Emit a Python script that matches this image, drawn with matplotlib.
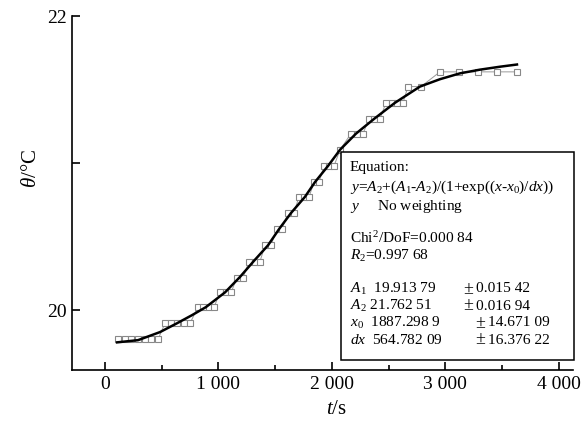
import matplotlib
matplotlib.use("Agg")
import matplotlib.pyplot as plt
from matplotlib.patches import Rectangle

plt.rcParams['font.family'] = ['Liberation Serif', 'DejaVu Serif']
plt.rcParams['mathtext.fontset'] = 'custom'
plt.rcParams['mathtext.rm'] = 'Liberation Serif'
plt.rcParams['mathtext.it'] = 'Liberation Serif:italic'

# measured data (time in s, temperature in degC)
t_data = [115, 174, 232, 291, 350, 408, 467,
          529, 582, 639, 696, 749,
          820, 864, 917, 961,
          1014, 1067, 1111,
          1164, 1217,
          1270, 1322, 1366,
          1411, 1463,
          1516, 1560,
          1613, 1666,
          1710, 1755, 1799,
          1843, 1887,
          1931, 1975, 2019,
          2072,
          2169, 2222, 2275,
          2327, 2371, 2424,
          2477, 2530, 2574, 2627,
          2671, 2786,
          2953, 3121, 3288, 3456, 3632]
theta_data = [19.80] * 7 + [19.91] * 5 + [20.02] * 4 + [20.12] * 3 + [20.22] * 2 + \
             [20.33] * 3 + [20.44] * 2 + [20.55] * 2 + [20.66] * 2 + [20.77] * 3 + \
             [20.87] * 2 + [20.98] * 3 + [21.09] * 1 + [21.20] * 3 + [21.30] * 3 + \
             [21.41] * 4 + [21.52] * 2 + [21.62] * 5

# fitted curve
fit_t = [106, 291, 485, 635, 767, 890, 1058, 1190, 1314, 1437, 1534, 1640, 1763,
         1851, 1966, 2072, 2213, 2372, 2557, 2777, 2953, 3130, 3306, 3482, 3632]
fit_theta = [19.78, 19.795, 19.85, 19.91, 19.965, 20.02, 20.12, 20.225, 20.335, 20.44,
             20.55, 20.66, 20.77, 20.87, 20.98, 21.09, 21.20, 21.30, 21.41, 21.52,
             21.57, 21.61, 21.635, 21.655, 21.67]

x_ticks = [0, 1000, 2000, 3000, 4000]
x_tick_labels = ['0', '1 000', '2 000', '3 000', '4 000']
x_minor = [500, 1500, 2500, 3500]
y_ticks = [20, 21, 22]
y_tick_labels = ['20', '', '22']

box_lines = [
    "Equation:",
    r"$y$=$A_2$+($A_1$-$A_2$)/(1+exp(($x$-$x_0$)/$dx$))",
    r"$y$     No weighting",
    "",
    r"Chi$^2$/DoF=0.000 84",
    r"$R_2$=0.997 68",
    "",
    r"$A_1$  19.913 79",
    r"$A_2$ 21.762 51",
    r"$x_0$  1887.298 9",
    r"$dx$  564.782 09",
]
box_line_y = [168, 187, 206, None, 238, 256, None, 289, 306, 323, 340]
err_values = ["0.015 42", "0.016 94", "14.671 09", "16.376 22"]

W, H = 583, 424
fig = plt.figure(figsize=(W / 100, H / 100), dpi=100)
ax = fig.add_axes([72 / W, 1 - 370 / H, (573 - 72) / W, (370 - 16) / H])

ax.plot(t_data, theta_data, color='#999999', lw=0.7, marker='s', ms=4.2,
        mfc='white', mec='#888888', mew=0.8, zorder=2)
ax.plot(fit_t, fit_theta, color='black', lw=1.8, zorder=3)

ax.set_xlim(-291, 4126)
ax.set_ylim(19.592, 22.0)
ax.set_xticks(x_ticks)
ax.set_xticklabels(x_tick_labels)
ax.set_xticks(x_minor, minor=True)
ax.set_yticks(y_ticks)
ax.set_yticklabels(y_tick_labels)
ax.tick_params(axis='both', which='major', direction='in', length=6, width=1.2,
               labelsize=14, pad=4)
ax.tick_params(axis='x', which='minor', direction='in', length=3.5, width=1.2)
for s in ['top', 'right']:
    ax.spines[s].set_visible(False)
for s in ['left', 'bottom']:
    ax.spines[s].set_linewidth(1.2)

fig.text(32 / W, 1 - 168 / H, r"$\theta$/°C", rotation=90, fontsize=15,
         ha='center', va='center')
fig.text(336 / W, 1 - 410 / H, r"$t$/s", fontsize=15, ha='center', va='center')

rect = Rectangle((341 / W, 1 - 360 / H), (574 - 341) / W, (360 - 152) / H,
                 transform=fig.transFigure, facecolor='white', edgecolor='black',
                 lw=1.1, zorder=5, clip_on=False)
ax.add_patch(rect)

for line, yy in zip(box_lines, box_line_y):
    if line:
        ax.text(350 / W, 1 - yy / H, line, transform=fig.transFigure,
                fontsize=11.1, ha='left', va='center', zorder=6)
err_x = [463, 463, 475, 475]
for j, e in enumerate(err_values):
    yy = 1 - box_line_y[7 + j] / H
    ax.text(err_x[j] / W, yy, "±", transform=fig.transFigure,
            fontsize=13, ha='left', va='center', zorder=6)
    ax.text((err_x[j] + 13) / W, yy, e, transform=fig.transFigure,
            fontsize=11.1, ha='left', va='center', zorder=6)

fig.savefig('out.png', dpi=100)
